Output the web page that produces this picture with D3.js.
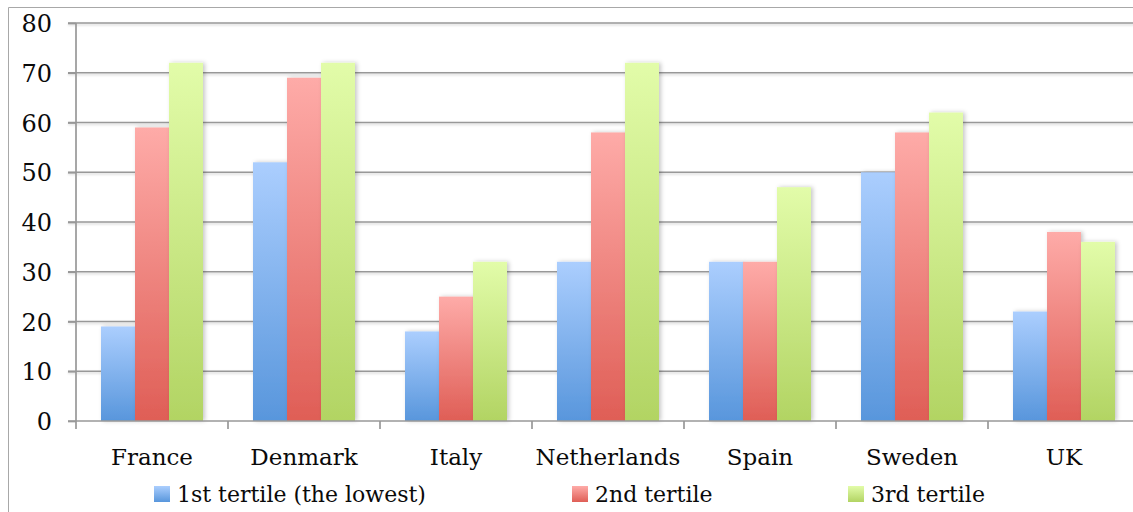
<!DOCTYPE html>
<html>
<head>
<meta charset="utf-8">
<script src="https://cdn.jsdelivr.net/npm/d3@7"></script>
<style>
  html, body { margin: 0; padding: 0; background: #fff; }
  svg { display: block; }
  text { font-family: "DejaVu Serif", "Liberation Serif", serif; fill: #0a0a0a; }
</style>
</head>
<body>
<svg id="chart" width="1133" height="512"></svg>
<script>
// Share by income tertile, per country
const countries = ["France", "Denmark", "Italy", "Netherlands", "Spain", "Sweden", "UK"];
const seriesNames = ["1st tertile (the lowest)", "2nd tertile", "3rd tertile"];
const tertile1 = [19, 52, 18, 32, 32, 50, 22];
const tertile2 = [59, 69, 25, 58, 32, 58, 38];
const tertile3 = [72, 72, 32, 72, 47, 62, 36];
const yTicks = [0, 10, 20, 30, 40, 50, 60, 70, 80];

const seriesValues = [tertile1, tertile2, tertile3];
const gradStops = [
  ["#abcefe", "#5896dc"],
  ["#feaba8", "#df5e56"],
  ["#e2fca9", "#b2d463"]
];

const svg = d3.select("#chart");
const W = 1133, H = 512;
const plotLeft = 76, plotRight = 1140, plotTop = 23, plotBottom = 421;

const x0 = d3.scaleBand().domain(countries).range([plotLeft, plotRight]).paddingInner(0).paddingOuter(0);
const x1 = d3.scaleBand().domain(d3.range(3)).range([25, x0.bandwidth() - 25]).padding(0);
const y = d3.scaleLinear().domain([0, 80]).range([plotBottom, plotTop]);

const defs = svg.append("defs");
gradStops.forEach((s, i) => {
  const g = defs.append("linearGradient").attr("id", "grad" + i)
    .attr("x1", 0).attr("y1", 0).attr("x2", 0).attr("y2", 1);
  g.append("stop").attr("offset", "0%").attr("stop-color", s[0]);
  g.append("stop").attr("offset", "100%").attr("stop-color", s[1]);
});
const shadow = defs.append("filter").attr("id", "barShadow")
  .attr("x", "-20%").attr("y", "-5%").attr("width", "150%").attr("height", "110%");
shadow.append("feDropShadow").attr("dx", 2).attr("dy", 0).attr("stdDeviation", 2)
  .attr("flood-color", "#000").attr("flood-opacity", 0.22);
const lineShadow = defs.append("filter").attr("id", "lineShadow")
  .attr("filterUnits", "userSpaceOnUse")
  .attr("x", 0).attr("y", 0).attr("width", W + 20).attr("height", H);
lineShadow.append("feDropShadow").attr("dx", 0).attr("dy", 1.5).attr("stdDeviation", 0.8)
  .attr("flood-color", "#000").attr("flood-opacity", 0.18);

// outer chart frame
svg.append("path")
  .attr("d", `M8.5,${H + 2} V7.5 H${W + 2}`)
  .attr("fill", "none").attr("stroke", "#a8a8a8").attr("stroke-width", 1);

// horizontal gridlines
svg.append("g")
  .attr("filter", "url(#lineShadow)")
  .selectAll("line")
  .data(yTicks.filter(d => d > 0))
  .join("line")
  .attr("x1", plotLeft - 8).attr("x2", plotRight)
  .attr("y1", d => y(d)).attr("y2", d => y(d))
  .attr("stroke", "#989898").attr("stroke-width", 1.7);

// bars
const groups = svg.append("g")
  .selectAll("g")
  .data(countries)
  .join("g")
  .attr("transform", d => `translate(${x0(d)},0)`);

groups.selectAll("rect")
  .data((c, ci) => seriesValues.map((vals, si) => ({ si, v: vals[ci] })))
  .join("rect")
  .attr("x", d => x1(d.si))
  .attr("width", x1.bandwidth())
  .attr("y", d => y(d.v))
  .attr("height", d => y(0) - y(d.v))
  .attr("fill", d => `url(#grad${d.si})`)
  .attr("filter", "url(#barShadow)");

// y axis
const yAxis = d3.axisLeft(y).tickValues(yTicks).tickSize(8).tickPadding(16);
const gy = svg.append("g").attr("transform", `translate(${plotLeft},0)`).call(yAxis);
gy.select(".domain").attr("stroke", "#989898").attr("stroke-width", 1.7)
  .attr("d", `M0,${plotTop}V${plotBottom}`);
gy.selectAll(".tick line").attr("stroke", "#989898").attr("stroke-width", 1.7);
gy.selectAll(".tick text")
  .style("font-family", '"DejaVu Serif", serif')
  .attr("font-size", 24).attr("fill", "#0a0a0a").attr("dy", "0.36em");

// x axis baseline with category separators
const gx = svg.append("g").attr("transform", `translate(0,${plotBottom})`);
gx.append("line").attr("x1", plotLeft - 8).attr("x2", plotRight).attr("y1", 0).attr("y2", 0)
  .attr("stroke", "#989898").attr("stroke-width", 1.7);
gx.selectAll("line.sep")
  .data(countries.map(c => x0(c)).concat([plotRight]))
  .join("line").attr("class", "sep")
  .attr("x1", d => d).attr("x2", d => d).attr("y1", 0).attr("y2", 8)
  .attr("stroke", "#989898").attr("stroke-width", 1.7);
gx.selectAll("text")
  .data(countries)
  .join("text")
  .attr("x", d => x0(d) + x0.bandwidth() / 2)
  .attr("y", 44)
  .attr("text-anchor", "middle")
  .attr("font-size", 23)
  .text(d => d);

// legend
const legendX = [154, 572, 848];
const legend = svg.append("g");
seriesNames.forEach((name, i) => {
  legend.append("rect")
    .attr("x", legendX[i]).attr("y", 486).attr("width", 16).attr("height", 16)
    .attr("fill", `url(#grad${i})`);
  legend.append("text")
    .attr("x", legendX[i] + 23).attr("y", 502)
    .attr("font-size", 22)
    .text(name);
});
</script>
</body>
</html>
